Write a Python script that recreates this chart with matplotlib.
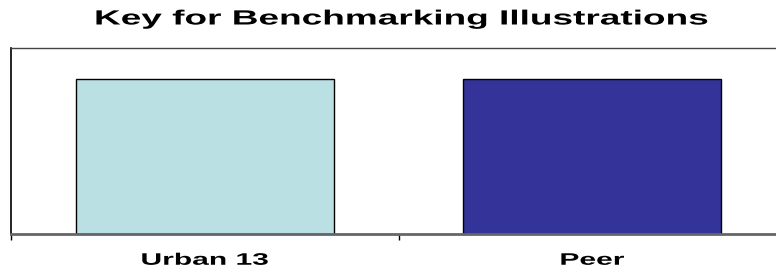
import matplotlib
matplotlib.use('Agg')
import matplotlib.pyplot as plt
import matplotlib.patheffects as pe
from matplotlib.transforms import Affine2D

# data
categories = ['Urban 13', 'Peer']
values = [1.0, 1.0]
colors = ['#BBE0E3', '#333399']


# the reference text is drawn wide, so stretch the glyphs sideways
class Stretch(pe.AbstractPathEffect):
    def __init__(self, sx):
        super().__init__()
        self.sx = sx

    def draw_path(self, renderer, gc, tpath, affine, rgbFace=None):
        bb = tpath.get_extents(affine)
        cx = (bb.x0 + bb.x1) / 2
        affine = affine + Affine2D().translate(-cx, 0).scale(self.sx, 1).translate(cx, 0)
        renderer.draw_path(gc, tpath, affine, rgbFace)


SX = 1.8
plt.rcParams['font.family'] = ['Liberation Sans', 'DejaVu Sans']

fig = plt.figure(figsize=(7.76, 2.70), dpi=100)
ax = fig.add_axes([11 / 776, 36 / 270, 775 / 776, 186 / 270])

ax.bar(range(len(categories)), values, width=0.666, color=colors,
       edgecolor='black', linewidth=1)
ax.set_xlim(-0.5, 1.5)
ax.set_ylim(0, 1.2)

ax.set_xticks([-0.5, 0.5, 1.5])
ax.set_xticklabels(['', '', ''])
ax.set_xticks([0, 1], minor=True)
ax.set_xticklabels(categories, minor=True, fontsize=12, fontweight='bold')
for lab in ax.get_xticklabels(minor=True):
    lab.set_path_effects([Stretch(SX)])
ax.tick_params(axis='x', which='major', length=4, width=1, color='black')
ax.tick_params(axis='x', which='minor', length=0, pad=13.5)
ax.set_yticks([])
ax.tick_params(axis='y', length=0)

ax.spines['left'].set_color('black')
ax.spines['left'].set_linewidth(1.2)
ax.spines['top'].set_color('#444444')
ax.spines['top'].set_linewidth(1)
ax.spines['bottom'].set_color('#666666')
ax.spines['bottom'].set_linewidth(2)
ax.spines['right'].set_visible(False)

title = fig.text(401 / 776, 1 - 19 / 270, 'Key for Benchmarking Illustrations',
                 ha='center', va='center', fontsize=14.8, fontweight='bold')
title.set_path_effects([Stretch(SX)])

fig.savefig('out.png', dpi=100)
